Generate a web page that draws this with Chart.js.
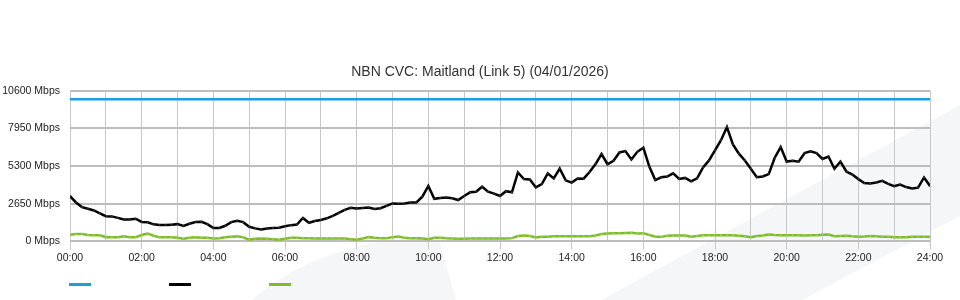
<!DOCTYPE html>
<html><head><meta charset="utf-8">
<script src="https://cdn.jsdelivr.net/npm/chart.js@4.4.1/dist/chart.umd.min.js"></script>
<style>
html,body{margin:0;padding:0;background:#fff;}
#wrap{position:relative;width:960px;height:300px;}
#legend{position:absolute;left:0;top:283px;width:960px;height:4px;}
.item{position:absolute;top:0;width:22px;height:3px;}
</style></head><body>
<div id="wrap"><canvas id="c" width="960" height="300"></canvas><div id="legend"></div></div>
<script>
const chartTitle = 'NBN CVC: Maitland (Link 5) (04/01/2026)';
const sampleMinutes = 10;
const capacityMinutes = [0, 1440];
const capacity = [10000, 10000];
const download = [3190,2740,2415,2300,2180,1980,1775,1760,1655,1550,
1550,1600,1370,1350,1200,1160,1150,1180,1215,1095,
1240,1365,1380,1215,945,945,1100,1355,1455,1355,
1030,915,840,915,945,965,1060,1145,1185,1650,
1310,1430,1510,1625,1795,2015,2215,2370,2320,2350,
2380,2280,2335,2500,2675,2650,2675,2735,2740,3150,
3900,3000,3050,3090,3040,2910,3195,3455,3500,3850,
3500,3365,3195,3535,3455,4850,4390,4365,3800,4040,
4780,4435,5120,4300,4140,4430,4415,4885,5445,6150,
5430,5680,6260,6355,5765,6305,6600,5265,4315,4510,
4560,4790,4400,4470,4225,4445,5210,5700,6405,7120,
8050,6830,6175,5695,5120,4520,4570,4740,5890,6640,
5620,5680,5610,6210,6340,6210,5805,5975,5110,5620,
4920,4700,4385,4115,4080,4145,4260,4045,3885,4000,
3825,3720,3785,4500,3905];
const upload = [475,520,520,450,430,430,300,300,300,355,
300,300,450,560,400,284,284,284,250,190,
250,284,250,250,200,230,284,320,355,284,
120,190,200,190,160,120,190,250,250,230,
220,200,200,200,200,200,200,160,120,200,
300,250,220,230,300,340,250,230,220,200,
150,250,250,220,200,180,180,210,210,210,
210,210,210,210,230,380,420,380,280,320,
330,360,355,355,355,355,360,355,420,520,
560,580,580,590,600,560,580,450,330,320,
400,420,420,420,330,380,426,430,430,430,
440,430,400,355,300,380,420,480,450,430,
430,440,430,420,426,430,470,480,360,380,
400,360,330,340,380,360,320,330,300,284,
284,320,320,330,330];
const yMax = 10600;
const yStep = 2650;
const xMaxMinutes = 1440;
const xLabelEveryMinutes = 120;

const toPoints = (arr, mins) => arr.map((v, i) => ({x: mins ? mins[i] : i * sampleMinutes, y: v}));
const pad = n => (n < 10 ? '0' : '') + n;

const watermark = {
  id: 'watermark',
  beforeDraw(chart) {
    const ctx = chart.ctx;
    ctx.save();
    ctx.fillStyle = '#f5f6f8';
    ctx.beginPath();
    ctx.moveTo(252, 300);
    ctx.quadraticCurveTo(320, 240, 438, 236);
    ctx.lineTo(456, 300);
    ctx.closePath();
    ctx.fill();
    ctx.beginPath();
    ctx.moveTo(601, 300);
    ctx.lineTo(960, 105);
    ctx.lineTo(960, 216);
    ctx.lineTo(802, 300);
    ctx.closePath();
    ctx.fill();
    ctx.restore();
  }
};

const chart = new Chart(document.getElementById('c'), {
  type: 'line',
  data: {
    datasets: [
      {label: 'Capacity', data: toPoints(capacity, capacityMinutes), borderColor: '#1a9fe6', backgroundColor: '#1a9fe6', borderWidth: 2.5, pointRadius: 0},
      {label: 'Download', data: toPoints(download), borderColor: '#000000', backgroundColor: '#000000', borderWidth: 2.5, pointRadius: 1, pointBorderWidth: 0, pointBackgroundColor: '#333'},
      {label: 'Upload', data: toPoints(upload), borderColor: '#7dbd2a', backgroundColor: '#7dbd2a', borderWidth: 2.5, pointRadius: 1, pointBorderWidth: 0, pointBackgroundColor: '#9ccf5a'}
    ]
  },
  options: {
    responsive: false,
    animation: false,
    layout: {padding: {left: 0, right: 0, top: 0, bottom: 34}},
    plugins: {
      legend: {display: false},
      tooltip: {enabled: false},
      title: {display: true, text: chartTitle, color: '#333', font: {family: 'Liberation Sans', size: 14, weight: 'normal'}, padding: {top: 64, bottom: 10}}
    },
    scales: {
      x: {
        type: 'linear', min: 0, max: xMaxMinutes,
        ticks: {stepSize: 60, autoSkip: false, maxRotation: 0, color: '#222', padding: 2,
          font: {family: 'Liberation Sans', size: 10.5},
          callback: v => (v % xLabelEveryMinutes === 0 ? pad(v / 60) + ':00' : '')},
        grid: {color: '#c8c8c8', lineWidth: 1, tickLength: 8,
          tickColor: c => (c.tick && c.tick.value % xLabelEveryMinutes === 0 ? '#c8c8c8' : 'rgba(0,0,0,0)')},
        border: {display: false}
      },
      y: {
        min: 0, max: yMax,
        afterFit: s => { s.width = 70; },
        ticks: {stepSize: yStep, color: '#222', padding: 10,
          font: {family: 'Liberation Sans', size: 10.5},
          callback: v => v + ' Mbps'},
        grid: {color: '#bdbdbd', lineWidth: 2, drawTicks: false},
        border: {display: false}
      },
      yRightSpace: {
        position: 'right', min: 0, max: yMax,
        afterFit: s => { s.width = 30; },
        ticks: {display: false},
        grid: {display: false},
        border: {display: false}
      }
    }
  },
  plugins: [watermark]
});

const legend = document.getElementById('legend');
chart.data.datasets.forEach((ds, i) => {
  const d = document.createElement('div');
  d.className = 'item';
  d.style.left = (69 + i * 100) + 'px';
  d.style.background = ds.borderColor;
  legend.appendChild(d);
});
</script>
</body></html>
